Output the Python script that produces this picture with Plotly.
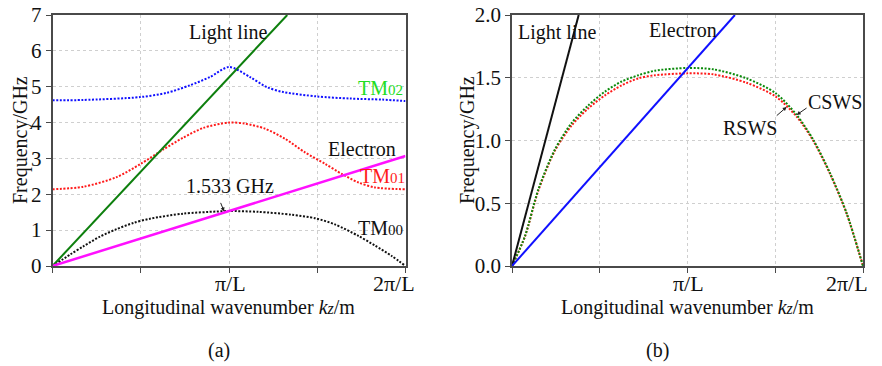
import plotly.graph_objects as go

# ---------------- data: (a) uniform structure ----------------
# wavenumber in units of pi/L (0 .. 2 -> 0 .. 2pi/L), frequency in GHz
k_tm00 = [0, 0.1, 0.175, 0.269, 0.364, 0.458, 0.553, 0.741, 0.93, 1.0,
          1.166, 1.355, 1.49, 1.6, 1.733, 1.827, 1.922, 2.0]
f_tm00 = [0, 0.32, 0.55, 0.82, 1.03, 1.2, 1.32, 1.46, 1.52, 1.533,
          1.51, 1.43, 1.33, 1.16, 0.84, 0.57, 0.28, 0]

k_tm01 = [0, 0.175, 0.364, 0.5, 0.628, 0.741, 0.854, 1.0, 1.09, 1.204,
          1.317, 1.43, 1.544, 1.638, 1.733, 1.827, 2.0]
f_tm01 = [2.14, 2.21, 2.48, 2.85, 3.25, 3.58, 3.85, 4.0, 3.97, 3.83,
          3.55, 3.17, 2.85, 2.57, 2.33, 2.19, 2.14]

k_tm02 = [0, 0.173, 0.496, 0.647, 0.779, 0.892, 1.0, 1.119, 1.214,
          1.308, 1.497, 1.686, 1.87, 2.0]
f_tm02 = [4.62, 4.63, 4.71, 4.83, 5.04, 5.27, 5.55, 5.27, 4.99,
          4.85, 4.73, 4.67, 4.64, 4.6]

k_light_a = [0, 1.33]
f_light_a = [0, 7.0]

k_electron_a = [0, 2.0]
f_electron_a = [0, 3.066]

sync_k = 1.0
sync_f = 1.533

# ---------------- data: (b) RSWS vs CSWS ----------------
k_sws = [0, 0.074, 0.15, 0.245, 0.34, 0.435, 0.53, 0.625, 0.72, 0.815,
         1.0, 1.147, 1.337, 1.503, 1.622, 1.717, 1.812, 1.907, 2.0]
f_csws = [0, 0.238, 0.61, 0.93, 1.14, 1.28, 1.39, 1.47, 1.52, 1.556,
          1.578, 1.567, 1.495, 1.376, 1.204, 1.005, 0.74, 0.42, 0]
f_rsws = [0, 0.236, 0.6, 0.92, 1.12, 1.257, 1.36, 1.44, 1.495, 1.52,
          1.535, 1.527, 1.46, 1.35, 1.19, 0.997, 0.735, 0.416, 0]

k_light_b = [0, 0.38]
f_light_b = [0, 2.0]

k_electron_b = [0, 1.27]
f_electron_b = [0, 2.0]

x_tickvals = [0, 0.5, 1, 1.5, 2]
x_ticktext = ["", "", "π/L", "", "2π/L"]

FONT = "Liberation Serif, Times New Roman, serif"
W, H = 882, 366
DOT = "2px,1.6px"

fig = go.Figure()


def curve(x, y, color, xa, ya, dash=None, width=2.0, shape="spline"):
    fig.add_trace(go.Scatter(
        x=x, y=y, mode="lines", xaxis=xa, yaxis=ya, showlegend=False,
        line=dict(color=color, width=width, dash=dash, shape=shape,
                  smoothing=0.8),
        hoverinfo="skip"))


# panel (a)
curve(k_tm02, f_tm02, "#1010ff", "x", "y", dash=DOT)
curve(k_tm01, f_tm01, "#ff1a1a", "x", "y", dash=DOT)
curve(k_tm00, f_tm00, "#111111", "x", "y", dash=DOT)
curve(k_light_a, f_light_a, "#0d7f0d", "x", "y", width=2.0, shape="linear")
curve(k_electron_a, f_electron_a, "#ff10ff", "x", "y", width=2.5, shape="linear")

# panel (b)
curve(k_sws, f_rsws, "#ff1a1a", "x2", "y2", dash=DOT)
curve(k_sws, f_csws, "#0a8a0a", "x2", "y2", dash=DOT)
curve(k_light_b, f_light_b, "#111111", "x2", "y2", width=2.0, shape="linear")
curve(k_electron_b, f_electron_b, "#1010ff", "x2", "y2", width=2.0, shape="linear")

axis_common = dict(
    automargin=False,
    showline=True, linecolor="#4a4a4a", linewidth=1.5, mirror=True,
    ticks="outside", ticklen=5, tickwidth=1.2, tickcolor="#4a4a4a",
    showgrid=True, gridcolor="#cfcfcf", gridwidth=1, griddash="dot",
    zeroline=False, tickfont=dict(family=FONT, size=21, color="#111"),
)

x0a, x1a = 52.5, 405.5
x0b, x1b = 512, 863
ytop, ybot = 15, 266
ydom = [(H - ybot) / H, (H - ytop) / H]

fig.update_layout(
    width=W, height=H, margin=dict(l=0, r=0, t=0, b=0, autoexpand=False),
    paper_bgcolor="white", plot_bgcolor="white",
    font=dict(family=FONT, size=20, color="#111"),
    xaxis=dict(domain=[x0a / W, x1a / W], range=[0, 2], anchor="y",
               tickvals=x_tickvals, showticklabels=False, **axis_common),
    yaxis=dict(domain=ydom, range=[0, 7], anchor="x", dtick=1,
               **axis_common),
    xaxis2=dict(domain=[x0b / W, x1b / W], range=[0, 2], anchor="y2",
                tickvals=x_tickvals, showticklabels=False, **axis_common),
    yaxis2=dict(domain=ydom, range=[0, 2.0], anchor="x2", dtick=0.5,
                tickformat=".1f", **axis_common),
)


def label(text, x, y, xref, yref, color="#111", size=20, xanchor="center",
          angle=0, xshift=0):
    fig.add_annotation(text=text, x=x, y=y, xref=xref, yref=yref,
                       showarrow=False, xanchor=xanchor, yanchor="middle",
                       textangle=angle, xshift=xshift,
                       font=dict(family=FONT, size=size, color=color))


def sub(main, small):
    return f"{main}<span style='font-size:15px'>{small}</span>"


# x tick labels placed just under the axis line; the last one is pulled
# inward so it stays inside the figure
for xa, end_shift in (("x", -12), ("x2", -16)):
    for tv, tt in zip(x_tickvals, x_ticktext):
        if tt:
            shift = end_shift if tv == x_tickvals[-1] else 1
            label(tt, tv, 1 - 283 / H, xa, "paper", size=22, xshift=shift)

# axis titles and panel captions
xtitle = "Longitudinal wavenumber <i>k</i><i><span style='font-size:16px'>z</span></i>/m"
label(xtitle, (x0a + x1a) / 2 / W, 1 - 307 / H, "paper", "paper")
label(xtitle, (x0b + x1b) / 2 / W, 1 - 307 / H, "paper", "paper")
label("(a)", 219 / W, 1 - 350 / H, "paper", "paper")
label("(b)", 657 / W, 1 - 350 / H, "paper", "paper")
label("Frequency/GHz", 20 / W, 1 - 140 / H, "paper", "paper", angle=-90)
label("Frequency/GHz", 467 / W, 1 - 140 / H, "paper", "paper", angle=-90)

# curve labels, panel (a)
label("Light line", 0.994, 6.5, "x", "y")
label(sub("TM", "02"), 1.86, 4.96, "x", "y", color="#22dd22")
label("Electron", 1.752, 3.27, "x", "y")
label(sub("TM", "01"), 1.87, 2.52, "x", "y", color="#ff1a1a")
label(sub("TM", "00"), 1.86, 1.07, "x", "y")
label(f"{sync_f:.3f} GHz", 1.006, 2.24, "x", "y")
fig.add_annotation(x=sync_k - 0.028, y=sync_f - 0.01, xref="x", yref="y",
                   ax=-4, ay=-10, showarrow=True, arrowhead=2,
                   arrowsize=0.8, arrowwidth=1, arrowcolor="#222", text="")

# curve labels, panel (b)
label("Light line", 0.02, 1.86, "x2", "y2", xanchor="left")
label("Electron", 0.973, 1.88, "x2", "y2")
label("RSWS", 1.356, 1.10, "x2", "y2")
label("CSWS", 1.84, 1.31, "x2", "y2")
fig.add_annotation(x=1.565, y=1.267, ax=1.5, ay=1.188, xref="x2", yref="y2",
                   axref="x2", ayref="y2", showarrow=True, arrowhead=2,
                   arrowsize=0.8, arrowwidth=1, arrowcolor="#222", text="")
fig.add_annotation(x=1.622, y=1.204, ax=1.687, ay=1.267, xref="x2", yref="y2",
                   axref="x2", ayref="y2", showarrow=True, arrowhead=2,
                   arrowsize=0.8, arrowwidth=1, arrowcolor="#222", text="")

fig.write_html("out.html")
